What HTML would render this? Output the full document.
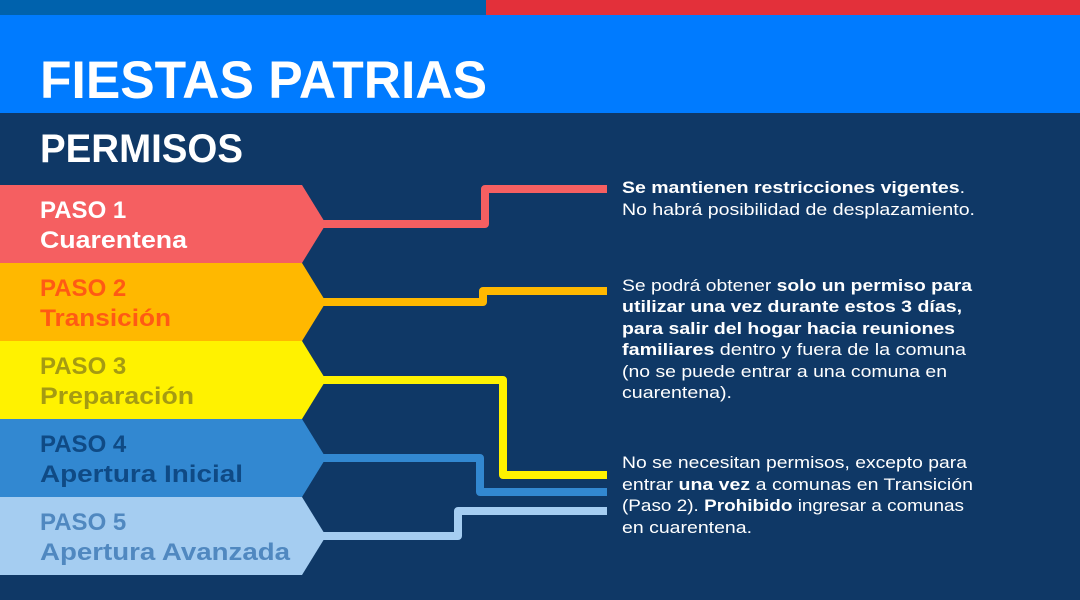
<!DOCTYPE html>
<html><head><meta charset="utf-8"><style>
html,body{margin:0;padding:0;width:1080px;height:600px;overflow:hidden;background:#0f3866}
svg{display:block}
text{font-family:"Liberation Sans",sans-serif}
</style></head><body>
<svg width="1080" height="600" viewBox="0 0 1080 600" xmlns="http://www.w3.org/2000/svg">
<rect x="0" y="0" width="1080" height="600" fill="#0f3866"/>
<rect x="0" y="0" width="486" height="15" fill="#0062ad"/>
<rect x="486" y="0" width="594" height="15" fill="#e3303a"/>
<rect x="0" y="15" width="1080" height="98" fill="#007bff"/>
<text x="40" y="98" font-size="53" font-weight="bold" fill="#fff" textLength="447" lengthAdjust="spacingAndGlyphs">FIESTAS PATRIAS</text>
<text x="40" y="162" font-size="40" font-weight="bold" fill="#fff" textLength="203" lengthAdjust="spacingAndGlyphs">PERMISOS</text>

<g fill="none" stroke-width="8" stroke-linejoin="round">
<path d="M320 224 H485 V189 H607" stroke="#f55f61"/>
<path d="M320 302 H483 V291 H607" stroke="#ffb800"/>
<path d="M320 380 H503 V475 H607" stroke="#fff200"/>
<path d="M320 458 H480 V492 H607" stroke="#3288d1"/>
<path d="M320 536 H458 V511 H607" stroke="#a5cdf1"/>
</g>

<polygon points="0,185 302,185 326,224 302,263 0,263" fill="#f55f61"/>
<polygon points="0,263 302,263 326,302 302,341 0,341" fill="#ffb800"/>
<polygon points="0,341 302,341 326,380 302,419 0,419" fill="#fff200"/>
<polygon points="0,419 302,419 326,458 302,497 0,497" fill="#3288d1"/>
<polygon points="0,497 302,497 326,536 302,575 0,575" fill="#a5cdf1"/>

<g font-size="24" font-weight="bold">
<text x="40" y="218" fill="#fff">PASO 1</text>
<text x="40" y="248" fill="#fff" textLength="147" lengthAdjust="spacingAndGlyphs">Cuarentena</text>
<text x="40" y="296" fill="#ff5a14">PASO 2</text>
<text x="40" y="326" fill="#ff5a14" textLength="131" lengthAdjust="spacingAndGlyphs">Transición</text>
<text x="40" y="374" fill="#a59b12">PASO 3</text>
<text x="40" y="404" fill="#a59b12" textLength="154" lengthAdjust="spacingAndGlyphs">Preparación</text>
<text x="40" y="452" fill="#0f4a85">PASO 4</text>
<text x="40" y="482" fill="#0f4a85" textLength="203" lengthAdjust="spacingAndGlyphs">Apertura Inicial</text>
<text x="40" y="530" fill="#5088c0">PASO 5</text>
<text x="40" y="560" fill="#5088c0" textLength="250" lengthAdjust="spacingAndGlyphs">Apertura Avanzada</text>
</g>

<g font-size="17" fill="#fff" lengthAdjust="spacingAndGlyphs">
<text x="622" y="193" textLength="343" lengthAdjust="spacingAndGlyphs"><tspan font-weight="bold">Se mantienen restricciones vigentes</tspan>.</text>
<text x="622" y="215" textLength="353" lengthAdjust="spacingAndGlyphs">No habrá posibilidad de desplazamiento.</text>

<text x="622" y="291" textLength="350" lengthAdjust="spacingAndGlyphs">Se podrá obtener <tspan font-weight="bold">solo un permiso para</tspan></text>
<text x="622" y="312" font-weight="bold" textLength="340" lengthAdjust="spacingAndGlyphs">utilizar una vez durante estos 3 días,</text>
<text x="622" y="334" font-weight="bold" textLength="333" lengthAdjust="spacingAndGlyphs">para salir del hogar hacia reuniones</text>
<text x="622" y="355" textLength="344" lengthAdjust="spacingAndGlyphs"><tspan font-weight="bold">familiares</tspan> dentro y fuera de la comuna</text>
<text x="622" y="377" textLength="325" lengthAdjust="spacingAndGlyphs">(no se puede entrar a una comuna en</text>
<text x="622" y="398" textLength="110" lengthAdjust="spacingAndGlyphs">cuarentena).</text>

<text x="622" y="468" textLength="345" lengthAdjust="spacingAndGlyphs">No se necesitan permisos, excepto para</text>
<text x="622" y="490" textLength="351" lengthAdjust="spacingAndGlyphs">entrar <tspan font-weight="bold">una vez</tspan> a comunas en Transición</text>
<text x="622" y="511" textLength="342" lengthAdjust="spacingAndGlyphs">(Paso 2). <tspan font-weight="bold">Prohibido</tspan> ingresar a comunas</text>
<text x="622" y="533" textLength="130" lengthAdjust="spacingAndGlyphs">en cuarentena.</text>
</g>
</svg>
</body></html>
